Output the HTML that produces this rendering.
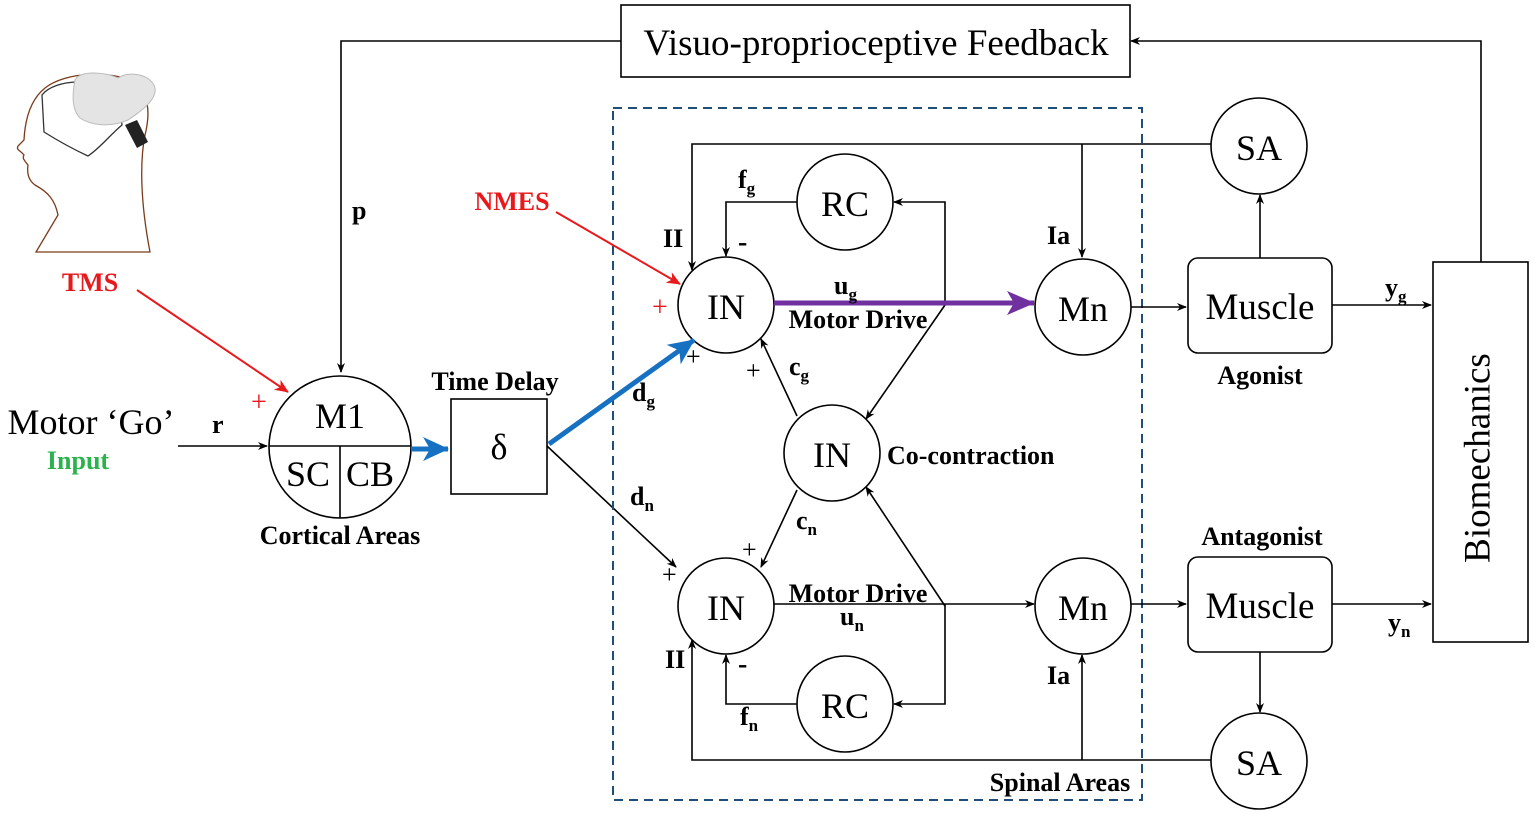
<!DOCTYPE html>
<html><head><meta charset="utf-8"><style>
body{margin:0;background:#fff}
svg{display:block}
text{font-family:"Liberation Serif",serif}
.b{font-weight:bold;font-size:26px}
.n{font-size:36px}
</style></head><body>
<svg width="1535" height="813" viewBox="0 0 1535 813">
<defs>
<marker id="a" markerWidth="10" markerHeight="10" refX="9" refY="5" orient="auto" markerUnits="userSpaceOnUse"><path d="M0,1 L10,5 L0,9 L3,5z" fill="#000"/></marker>
<marker id="r" markerWidth="14" markerHeight="12" refX="13" refY="6" orient="auto" markerUnits="userSpaceOnUse"><path d="M0,0 L14,6 L0,12 L4,6z" fill="#e8191c"/></marker>
<marker id="bl" markerWidth="26" markerHeight="24" refX="25" refY="12" orient="auto" markerUnits="userSpaceOnUse"><path d="M0,0 L26,12 L0,24 L7,12z" fill="#1671c2"/></marker>
<marker id="p" markerWidth="28" markerHeight="24" refX="27" refY="12" orient="auto" markerUnits="userSpaceOnUse"><path d="M0,0 L28,12 L0,24 L7,12z" fill="#7030a0"/></marker>
</defs>
<g fill="none" stroke="#000" stroke-width="1.6">
<!-- head -->
<path d="M36,252 L58,215 C55,200 48,192 35,185 C28,180 27,172 28,165 C24,160 22,158 24,155 C20,150 16,150 18,146 L24,140 C25,120 30,100 45,88 C65,72 110,70 135,82 C150,95 150,115 145,135 C140,160 140,200 150,252 Z" stroke="#7a3b1a" stroke-width="1.3"/>
<path d="M42,95 C55,78 100,78 118,92 L122,125 C110,135 100,148 88,156 C75,150 60,142 44,132 Z" stroke="#333" stroke-width="1.3"/>
<!-- feedback box -->
<rect x="621" y="5" width="509" height="72"/>
<path d="M621,41 H341 V372" marker-end="url(#a)"/>
<path d="M1481,262 V41 H1131" marker-end="url(#a)"/>
<!-- M1 -->
<circle cx="340" cy="447" r="71"/>
<path d="M269,446 H411 M340,446 V518"/>
<path d="M178,446 H267" marker-end="url(#a)"/>
<rect x="451" y="399" width="96" height="95"/>
<path d="M547,446 L676,567" marker-end="url(#a)"/>
<!-- dashed -->
<rect x="613" y="108" width="529" height="692" stroke="#1f4e79" stroke-width="2" stroke-dasharray="9,6"/>
<!-- circles -->
<circle cx="726" cy="305" r="48"/>
<circle cx="845" cy="202" r="48"/>
<circle cx="1083" cy="307" r="48"/>
<circle cx="832" cy="453" r="48"/>
<circle cx="726" cy="606" r="48"/>
<circle cx="845" cy="704" r="48"/>
<circle cx="1083" cy="606" r="48"/>
<circle cx="1259" cy="146" r="48"/>
<circle cx="1259" cy="761" r="48"/>
<rect x="1188" y="258" width="144" height="95" rx="10"/>
<rect x="1188" y="557" width="144" height="95" rx="10"/>
<rect x="1433" y="262" width="95" height="380"/>
<path d="M1211,144 H692 V270" marker-end="url(#a)"/>
<path d="M1082,144 V257" marker-end="url(#a)"/>
<path d="M797,202 H726 V256" marker-end="url(#a)"/>
<path d="M945,305 V202 H894" marker-end="url(#a)"/>
<path d="M945,305 L866,419" marker-end="url(#a)"/>
<path d="M797,416 L761,339" marker-end="url(#a)"/>
<path d="M797,490 L761,567" marker-end="url(#a)"/>
<path d="M945,606 L866,487" marker-end="url(#a)"/>
<path d="M774,604 H1034" marker-end="url(#a)"/>
<path d="M945,604 V704 H894" marker-end="url(#a)"/>
<path d="M797,704 H726 V655" marker-end="url(#a)"/>
<path d="M1211,760 H692 V640" marker-end="url(#a)"/>
<path d="M1082,760 V655" marker-end="url(#a)"/>
<path d="M1131,307 H1186" marker-end="url(#a)"/>
<path d="M1131,604 H1186" marker-end="url(#a)"/>
<path d="M1260,258 V195" marker-end="url(#a)"/>
<path d="M1260,652 V712" marker-end="url(#a)"/>
<path d="M1332,305 H1431" marker-end="url(#a)"/>
<path d="M1332,604 H1431" marker-end="url(#a)"/>
</g>
<!-- TMS device -->
<path d="M75,80 C80,70 105,72 118,78 C130,70 152,75 155,88 C157,100 140,112 128,120 C110,128 90,125 80,118 C72,110 72,95 75,80Z" fill="#e4e4e4" stroke="#bbb"/>
<path d="M125,125 L137,148 L148,142 L137,120Z" fill="#222"/>
<g fill="none" stroke-width="2">
<path d="M137,290 L288,392" stroke="#e8191c" marker-end="url(#r)"/>
<path d="M556,212 L680,284" stroke="#e8191c" marker-end="url(#r)"/>
<path d="M411,449 H448" stroke="#1671c2" stroke-width="5" marker-end="url(#bl)"/>
<path d="M549,444 L694,340" stroke="#1671c2" stroke-width="5" marker-end="url(#bl)"/>
<path d="M774,303 H1034" stroke="#7030a0" stroke-width="5" marker-end="url(#p)"/>
</g>
<g text-anchor="middle">
<text x="876" y="55" font-size="37">Visuo-proprioceptive Feedback</text>
<text x="340" y="428" class="n">M1</text>
<text x="308" y="486" class="n">SC</text>
<text x="370" y="486" class="n">CB</text>
<text x="499" y="459" class="n">δ</text>
<text x="726" y="319" class="n">IN</text>
<text x="845" y="216" class="n">RC</text>
<text x="1083" y="321" class="n">Mn</text>
<text x="832" y="467" class="n">IN</text>
<text x="726" y="620" class="n">IN</text>
<text x="845" y="718" class="n">RC</text>
<text x="1083" y="620" class="n">Mn</text>
<text x="1259" y="160" class="n">SA</text>
<text x="1259" y="775" class="n">SA</text>
<text x="1260" y="319" font-size="37">Muscle</text>
<text x="1260" y="618" font-size="37">Muscle</text>
<text x="1481" y="458" font-size="37" transform="rotate(-90 1481 458)" dominant-baseline="middle">Biomechanics</text>
<text x="91" y="434" font-size="36">Motor ‘Go’</text>
<text x="78" y="469" class="b" fill="#2bb24c">Input</text>
<text x="90" y="291" class="b" fill="#e8191c">TMS</text>
<text x="512" y="210" class="b" fill="#e8191c">NMES</text>
<text x="340" y="544" class="b">Cortical Areas</text>
<text x="495" y="390" class="b">Time Delay</text>
<text x="858" y="328" class="b">Motor Drive</text>
<text x="858" y="602" class="b">Motor Drive</text>
<text x="1260" y="384" class="b">Agonist</text>
<text x="1262" y="545" class="b">Antagonist</text>
<text x="1060" y="791" class="b">Spinal Areas</text>
</g>
<g>
<text x="887" y="464" class="b">Co-contraction</text>
<text x="212" y="433" class="b">r</text>
<text x="352" y="219" class="b">p</text>
<text x="663" y="247" class="b">II</text>
<text x="1047" y="244" class="b">Ia</text>
<text x="665" y="668" class="b">II</text>
<text x="1047" y="684" class="b">Ia</text>
<text x="738" y="188" class="b">f<tspan font-size="17" dy="6">g</tspan></text>
<text x="740" y="725" class="b">f<tspan font-size="17" dy="6">n</tspan></text>
<text x="834" y="294" class="b">u<tspan font-size="17" dy="6">g</tspan></text>
<text x="840" y="625" class="b">u<tspan font-size="17" dy="6">n</tspan></text>
<text x="789" y="375" class="b">c<tspan font-size="17" dy="6">g</tspan></text>
<text x="796" y="529" class="b">c<tspan font-size="17" dy="6">n</tspan></text>
<text x="632" y="401" class="b">d<tspan font-size="17" dy="6">g</tspan></text>
<text x="630" y="505" class="b">d<tspan font-size="17" dy="6">n</tspan></text>
<text x="1385" y="296" class="b">y<tspan font-size="17" dy="6">g</tspan></text>
<text x="1388" y="631" class="b">y<tspan font-size="17" dy="6">n</tspan></text>
<text x="738" y="251" font-size="28" font-weight="bold">-</text>
<text x="738" y="673" font-size="28" font-weight="bold">-</text>
<text x="686" y="365" font-size="26">+</text>
<text x="746" y="379" font-size="26">+</text>
<text x="742" y="558" font-size="26">+</text>
<text x="662" y="583" font-size="26">+</text>
<text x="652" y="316" font-size="28" fill="#e8191c">+</text>
<text x="251" y="411" font-size="28" fill="#e8191c">+</text>
</g>
</svg>
</body></html>
